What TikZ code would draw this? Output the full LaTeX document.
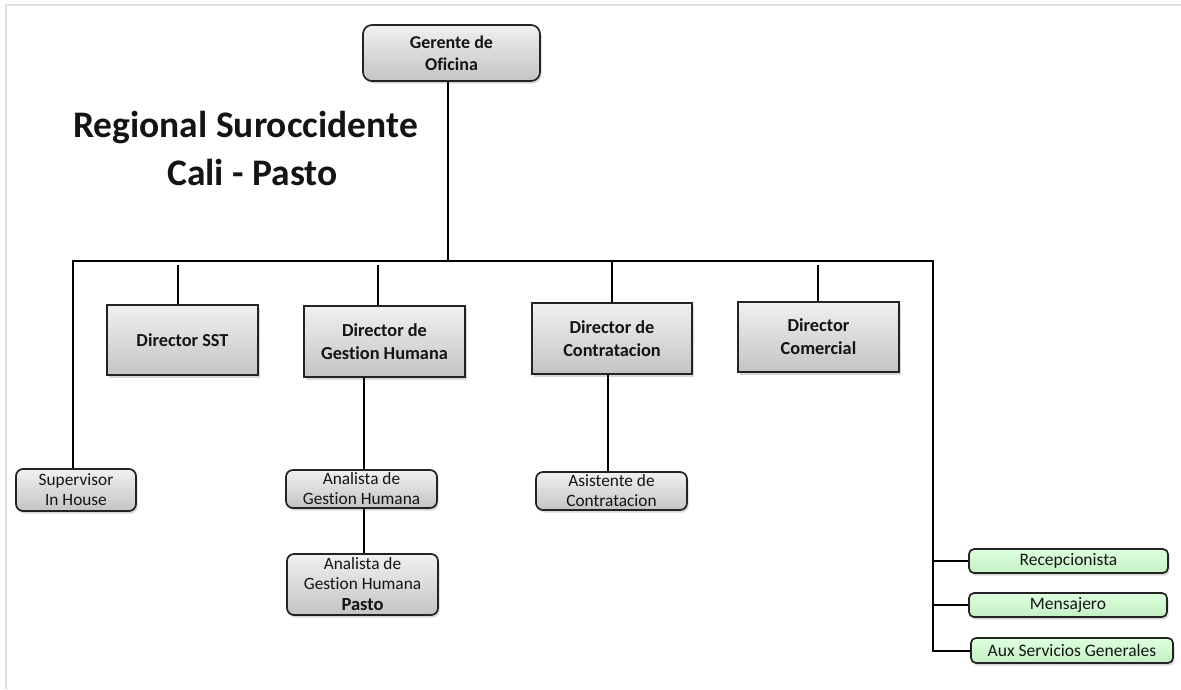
\documentclass[tikz,border=0pt]{standalone}
\usepackage{fontspec}
\setmainfont{Carlito}[Ligatures=NoCommon]
\usetikzlibrary{shadows}
\definecolor{txt}{RGB}{20,20,20}
\definecolor{bord}{RGB}{35,35,35}
\definecolor{gtop}{RGB}{240,240,240}
\definecolor{gbot}{RGB}{196,196,196}
\definecolor{grtop}{RGB}{222,255,222}
\definecolor{grbot}{RGB}{196,240,196}
\definecolor{frame}{RGB}{224,224,224}
\tikzset{
  base/.style={draw=bord, line width=1.7pt, text=txt, inner sep=0pt, align=center,
    top color=gtop, bottom color=gbot,
    drop shadow={opacity=0.3, shadow xshift=1.5pt, shadow yshift=-2.5pt}},
  topbox/.style={base, rounded corners=9pt, font=\bfseries\fontsize{18}{22}\selectfont},
  dirbox/.style={base, font=\bfseries\fontsize{18.3}{23}\selectfont},
  smallbox/.style={base, rounded corners=7pt, font=\fontsize{17.3}{20}\selectfont},
  greenbox/.style={base, rounded corners=5pt, top color=grtop, bottom color=grbot, font=\fontsize{17.5}{20}\selectfont},
  link/.style={draw=black, line width=2pt},
  title/.style={anchor=base, text=txt, inner sep=0pt, font=\bfseries\fontsize{37.5}{44}\selectfont}
}
\begin{document}
\begin{tikzpicture}[x=1pt,y=-1pt]
\useasboundingbox (0,0) rectangle (1181,689);
\fill[white] (0,0) rectangle (1181,689);
\draw[frame, line width=2pt] (6,689) -- (6,5) -- (1181,5);

% title
\node[title] (t1) at (245.5,137) {Regional Suroccidente};
\node[title] (t2) at (252.5,185) {Cali - Pasto};

% boxes
\node[topbox, minimum width=177pt, minimum height=56pt] (ger) at (451.5,53) {Gerente de\\Oficina};

\node[dirbox, minimum width=151pt, minimum height=70pt] (sst) at (182.5,340) {Director SST};
\node[dirbox, minimum width=161pt, minimum height=71pt] (gh) at (384.5,341.5) {Director de\\Gestion Humana};
\node[dirbox, minimum width=160pt, minimum height=71pt] (con) at (612,338.5) {Director de\\Contratacion};
\node[dirbox, minimum width=161pt, minimum height=70pt] (com) at (818.5,337) {Director\\Comercial};

\node[smallbox, minimum width=120pt, minimum height=42pt] (sup) at (76,490) {Supervisor\\In House};
\node[smallbox, minimum width=151pt, minimum height=38pt] (agh) at (361.5,489) {Analista de\\Gestion Humana};
\node[smallbox, minimum width=151pt, minimum height=61pt] (agp) at (362.5,584.5) {Analista de\\Gestion Humana\\[1pt]{\bfseries\fontsize{18.5}{22}\selectfont Pasto}};
\node[smallbox, minimum width=151pt, minimum height=38pt] (asc) at (611.5,491) {Asistente de\\Contratacion};

\node[greenbox, minimum width=199pt, minimum height=24pt] (rec) at (1068.5,561) {Recepcionista};
\node[greenbox, minimum width=198pt, minimum height=24pt] (men) at (1068,605) {Mensajero};
\node[greenbox, minimum width=202pt, minimum height=25pt] (aux) at (1072,650.5) {Aux Servicios Generales};

% connectors
\coordinate (bl) at (73,261);
\coordinate (br) at (933,261);
\coordinate (stub) at (0,265);

\draw[link] (ger.south) ++(-3.5,0) coordinate (gers) -- (gers |- bl);
\draw[link] (sup.north) ++(-3,0) coordinate (supt) -- (supt |- bl) -- (br) |- (aux.west);
\draw[link] (br |- rec.west) -- (rec.west);
\draw[link] (br |- men.west) -- (men.west);

\draw[link] (sst.north) ++(-4.5,0) coordinate (sstn) -- (sstn |- stub);
\draw[link] (gh.north) ++(-6.5,0) coordinate (ght) -- (ght |- stub);
\draw[link] (con.north) -- (con.north |- bl);
\draw[link] (com.north) ++(-0.5,0) coordinate (comn) -- (comn |- stub);

\draw[link] (agh.north) ++(2.5,0) coordinate (aghn) -- (aghn |- gh.south);
\draw[link] (agh.south) ++(2.5,0) coordinate (aghs) -- (aghs |- agp.north);
\draw[link] (asc.north) ++(-3.5,0) coordinate (ascn) -- (ascn |- con.south);
\end{tikzpicture}
\end{document}
